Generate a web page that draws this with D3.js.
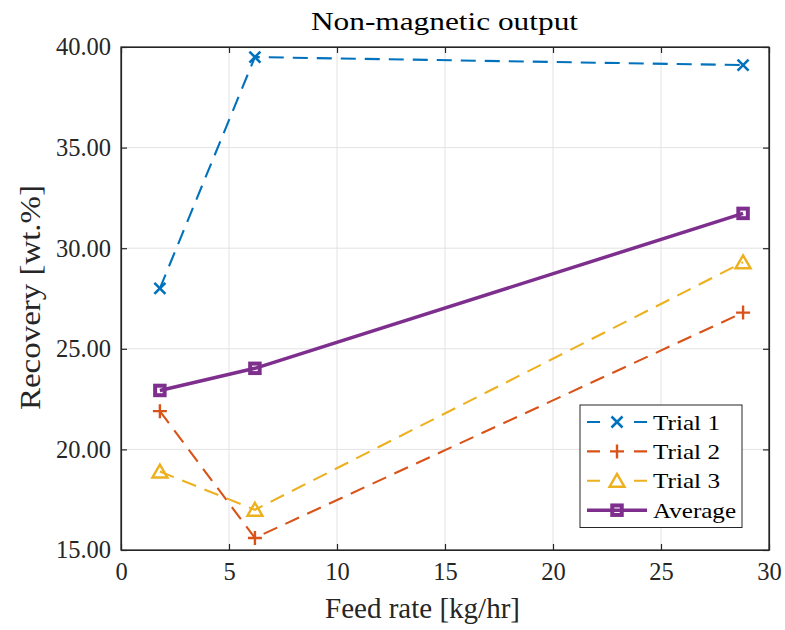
<!DOCTYPE html>
<html><head><meta charset="utf-8">
<script src="https://cdn.jsdelivr.net/npm/d3@7"></script>
<style>body{margin:0;background:#fff}</style>
</head><body><svg id="c" width="785" height="630" font-family="Liberation Serif"></svg>
<script>
const feedRate = [1.8, 6.2, 28.8];
const trial1 = [28.0, 39.5, 39.1];
const trial2 = [21.9, 15.6, 26.8];
const trial3 = [18.9, 17.0, 29.3];
const average = [22.93, 24.03, 31.73];
const seriesNames = ["Trial 1", "Trial 2", "Trial 3", "Average"];
const xTicks = [0, 5, 10, 15, 20, 25, 30];
const yTicks = [15, 20, 25, 30, 35, 40];

const FONT = "Liberation Serif";
const colors = ["#0072BD", "#D95319", "#EDB120", "#7E2F8E"];
const markers = ["x", "plus", "tri", "sq"];
const series = [trial1, trial2, trial3, average];

const svg = d3.select("#c");
const L = 121, R = 769, T = 47, B = 550;
const x = d3.scaleLinear().domain([0, 30]).range([L, R]);
const y = d3.scaleLinear().domain([15, 40]).range([B, T]);

// grid
const g = svg.append("g");
g.selectAll(".gx").data(xTicks).join("line").attr("x1", d => x(d)).attr("x2", d => x(d))
  .attr("y1", T).attr("y2", B).attr("stroke", "#e3e3e3").attr("stroke-width", 1);
g.selectAll(".gy").data(yTicks).join("line").attr("y1", d => y(d)).attr("y2", d => y(d))
  .attr("x1", L).attr("x2", R).attr("stroke", "#e3e3e3").attr("stroke-width", 1);

// axes
const xa = svg.append("g").attr("transform", `translate(0,${B})`)
  .call(d3.axisBottom(x).tickValues(xTicks).tickSizeInner(-6).tickSizeOuter(0).tickPadding(13));
const xa2 = svg.append("g").attr("transform", `translate(0,${T})`)
  .call(d3.axisTop(x).tickValues(xTicks).tickSizeInner(-6).tickSizeOuter(0).tickFormat(""));
const ya = svg.append("g").attr("transform", `translate(${L},0)`)
  .call(d3.axisLeft(y).tickValues(yTicks).tickSizeInner(-6).tickSizeOuter(0).tickPadding(10).tickFormat(d3.format(".2f")));
const ya2 = svg.append("g").attr("transform", `translate(${R},0)`)
  .call(d3.axisRight(y).tickValues(yTicks).tickSizeInner(-6).tickSizeOuter(0).tickFormat(""));
[xa, xa2, ya, ya2].forEach(a => {
  a.attr("font-family", FONT).attr("font-size", 24.5);
  a.selectAll("path").attr("stroke", "#262626").attr("stroke-width", 1.2);
  a.selectAll("line").attr("stroke", "#262626").attr("stroke-width", 1.2);
  a.selectAll("text").attr("fill", "#262626").attr("font-family", FONT).attr("font-size", 24.5);
});

// lines
const line = d3.line().x((d, i) => x(feedRate[i])).y(d => y(d));
function drawMarker(sel, type, cx, cy, col) {
  const s = 5.5;
  if (type === "x") {
    sel.append("path").attr("d", `M${cx-s},${cy-s}L${cx+s},${cy+s}M${cx-s},${cy+s}L${cx+s},${cy-s}`)
      .attr("stroke", col).attr("stroke-width", 2.6).attr("fill", "none");
  } else if (type === "plus") {
    sel.append("path").attr("d", `M${cx-7},${cy}L${cx+7},${cy}M${cx},${cy-7}L${cx},${cy+7}`)
      .attr("stroke", col).attr("stroke-width", 2.4).attr("fill", "none");
  } else if (type === "tri") {
    sel.append("path").attr("d", `M${cx},${cy-7}L${cx+7.5},${cy+6}L${cx-7.5},${cy+6}Z`)
      .attr("stroke", col).attr("stroke-width", 2.4).attr("fill", "none");
  } else {
    sel.append("rect").attr("x", cx - 4.75).attr("y", cy - 4.75).attr("width", 9.5).attr("height", 9.5)
      .attr("stroke", col).attr("stroke-width", 4).attr("fill", "none");
  }
}
series.forEach((vals, k) => {
  svg.append("path").datum(vals).attr("d", line).attr("fill", "none")
    .attr("stroke", colors[k]).attr("stroke-width", k === 3 ? 3.5 : 2.1)
    .attr("stroke-dasharray", k === 3 ? null : "15,9");
  const mg = svg.append("g");
  vals.forEach((v, i) => drawMarker(mg, markers[k], x(feedRate[i]), y(v), colors[k]));
});

// box border on top
svg.append("rect").attr("x", L).attr("y", T).attr("width", R - L).attr("height", B - T)
  .attr("fill", "none").attr("stroke", "#262626").attr("stroke-width", 1.2);

// legend
const legendWidths = [67, 67, 67, 83];
const lg = svg.append("g");
lg.append("rect").attr("x", 580).attr("y", 405).attr("width", 162).attr("height", 122.5)
  .attr("fill", "#fff").attr("stroke", "#262626").attr("stroke-width", 1);
seriesNames.forEach((n, k) => {
  const ly = 422 + k * 29.4;
  lg.append("line").attr("x1", 587).attr("x2", 647).attr("y1", ly).attr("y2", ly)
    .attr("stroke", colors[k]).attr("stroke-width", k === 3 ? 3.5 : 2.1)
    .attr("stroke-dasharray", k === 3 ? null : "13,34");
  drawMarker(lg, markers[k], 617, ly, colors[k]);
  lg.append("text").attr("x", 653).attr("y", ly + 7.5).text(n)
    .attr("font-family", FONT).attr("font-size", 22).attr("fill", "#000")
    .attr("textLength", legendWidths[k]).attr("lengthAdjust", "spacingAndGlyphs");
});

// title and labels
svg.append("text").attr("x", 444.5).attr("y", 30).attr("text-anchor", "middle")
  .attr("font-family", FONT).attr("font-size", 25).attr("fill", "#000")
  .attr("textLength", 267).attr("lengthAdjust", "spacingAndGlyphs").text("Non-magnetic output");
svg.append("text").attr("x", 422.5).attr("y", 618).attr("text-anchor", "middle")
  .attr("font-family", FONT).attr("font-size", 29).attr("fill", "#262626")
  .attr("textLength", 195).attr("lengthAdjust", "spacingAndGlyphs").text("Feed rate [kg/hr]");
svg.append("text").attr("transform", "translate(40,297.5) rotate(-90)").attr("text-anchor", "middle")
  .attr("font-family", FONT).attr("font-size", 29).attr("fill", "#262626")
  .attr("textLength", 225).attr("lengthAdjust", "spacingAndGlyphs").text("Recovery [wt.%]");
</script></body></html>
